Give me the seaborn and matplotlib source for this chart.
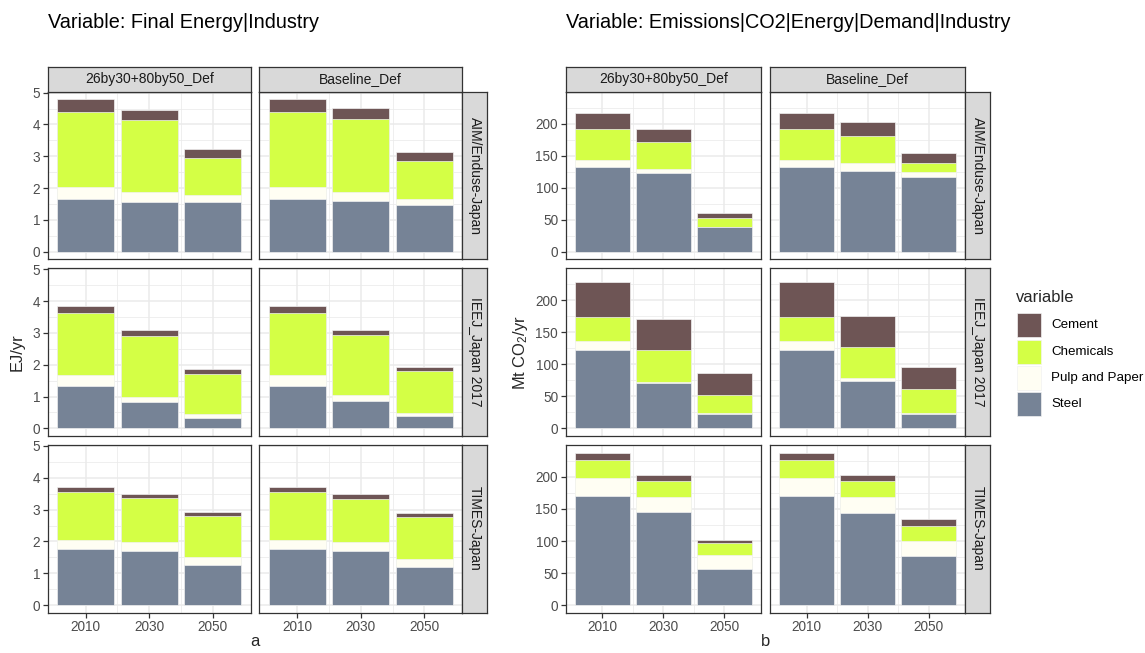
import numpy as np
import pandas as pd
import matplotlib
matplotlib.use("Agg")
import matplotlib.pyplot as plt
from matplotlib.patches import Rectangle
import seaborn as sns

# ---------------------------------------------------------------- data
years = ["2010", "2030", "2050"]
models = ["AIM/Enduse-Japan", "IEEJ_Japan 2017", "TIMES-Japan"]
scenarios = ["26by30+80by50_Def", "Baseline_Def"]
sectors = ["Cement", "Chemicals", "Pulp and Paper", "Steel"]   # legend order (top of stack first)

# Final Energy|Industry, EJ/yr  -- rows: (model, scenario), cols: years
fe_steel = [[1.67, 1.56, 1.56], [1.67, 1.59, 1.46],
            [1.34, 0.83, 0.34], [1.34, 0.86, 0.39],
            [1.77, 1.70, 1.25], [1.77, 1.69, 1.20]]
fe_pulp = [[0.37, 0.31, 0.21], [0.37, 0.30, 0.21],
           [0.34, 0.17, 0.11], [0.34, 0.18, 0.10],
           [0.29, 0.29, 0.25], [0.29, 0.28, 0.25]]
fe_chem = [[2.35, 2.26, 1.17], [2.35, 2.27, 1.19],
           [1.94, 1.89, 1.27], [1.94, 1.89, 1.32],
           [1.50, 1.37, 1.30], [1.50, 1.37, 1.32]]
fe_cement = [[0.40, 0.33, 0.30], [0.40, 0.37, 0.27],
             [0.23, 0.19, 0.13], [0.23, 0.16, 0.12],
             [0.15, 0.13, 0.13], [0.15, 0.14, 0.11]]

# Emissions|CO2|Energy|Demand|Industry, Mt CO2/yr
co2_steel = [[132, 123, 38], [132, 126, 117],
             [123, 71, 23], [123, 74, 23],
             [171, 145, 57], [171, 143, 76]]
co2_pulp = [[12, 7, 1], [12, 13, 8],
            [14, 1, 0.5], [14, 4, 1],
            [28, 24, 21], [28, 26, 24]]
co2_chem = [[47, 42, 13], [47, 41, 14],
            [37, 51, 29], [37, 49, 38],
            [27, 24, 19], [27, 24, 24]]
co2_cement = [[26, 19, 8], [26, 23, 15],
              [55, 48, 34], [55, 48, 34],
              [12, 10, 4], [12, 10, 11]]

colors = {"Cement": "#6E5555", "Chemicals": "#D4FF45",
          "Pulp and Paper": "#FFFEF3", "Steel": "#768396"}


def to_long(steel, pulp, chem, cement):
    rows = []
    for i, (m, s) in enumerate([(m, s) for m in models for s in scenarios]):
        for j, y in enumerate(years):
            for sec, arr in zip(["Steel", "Pulp and Paper", "Chemicals", "Cement"],
                                [steel, pulp, chem, cement]):
                rows.append(dict(model=m, scenario=s, year=y, variable=sec, value=arr[i][j]))
    return pd.DataFrame(rows)


df_fe = to_long(fe_steel, fe_pulp, fe_chem, fe_cement)
df_co2 = to_long(co2_steel, co2_pulp, co2_chem, co2_cement)

# ---------------------------------------------------------------- style
sns.set_style("white")
plt.rcParams["font.family"] = ["Liberation Sans", "DejaVu Sans"]
plt.rcParams["mathtext.fontset"] = "custom"
plt.rcParams["mathtext.rm"] = "Liberation Sans"
plt.rcParams["mathtext.it"] = "Liberation Sans:italic"

W, H = 1145, 653
fig = plt.figure(figsize=(W / 100, H / 100), dpi=100)
fig.patch.set_facecolor("white")

GRID = "#EBEBEB"
DARK = "#333333"
TICK_TXT = "#4D4D4D"
STRIP_BG = "#D9D9D9"
FS_TICK = 9.8
FS_STRIP = 10.0
FS_LEGEND = 9.6
FS_AXIS = 11.9
FS_TITLE = 14.3

row_tops = [91.7, 268.3, 445.0]
row_h = 167.7
strip_h = 25.0


def px_axes(x, y, w, h):
    return fig.add_axes([x / W, 1 - (y + h) / H, w / W, h / H])


def strip(x, y, w, h, label, rotate=False):
    sa = px_axes(x, y, w, h)
    sa.set_facecolor(STRIP_BG)
    sa.set_xticks([])
    sa.set_yticks([])
    for sp in sa.spines.values():
        sp.set_color(DARK)
        sp.set_linewidth(0.9)
    sa.text(0.5, 0.5, label, ha="center", va="center", fontsize=FS_STRIP,
            color="#1A1A1A", rotation=-90 if rotate else 0, transform=sa.transAxes)


def facet_block(df, col_lefts, col_w, ymax_data, yticks, yminor, title, ylabel, xlab,
                ylabel_x):
    lo, hi = 0.0, ymax_data
    pad = (hi - lo) * 0.05
    stack_order = ["Steel", "Pulp and Paper", "Chemicals", "Cement"]
    for r, m in enumerate(models):
        for c, s in enumerate(scenarios):
            ax = px_axes(col_lefts[c], row_tops[r], col_w, row_h)
            sub = df[(df.model == m) & (df.scenario == s)]
            wide = sub.pivot(index="year", columns="variable", values="value").loc[years]
            cum = wide[stack_order].cumsum(axis=1)
            # draw tallest cumulative first so lower segments sit on top
            for sec in reversed(stack_order):
                sns.barplot(x=years, y=cum[sec].values, order=years, color=colors[sec],
                            saturation=1, width=0.9, edgecolor="#F2F2F2", linewidth=0.5,
                            ax=ax, zorder=2)
            ax.set_xlim(-0.6, 2.6)
            ax.set_ylim(lo - pad, hi + pad)
            ax.set_xlabel("")
            ax.set_ylabel("")
            ax.set_yticks(yticks)
            ax.set_yticks(yminor, minor=True)
            ax.set_xticks([0, 1, 2])
            ax.set_xticks([0.5, 1.5], minor=True)
            ax.grid(which="major", color=GRID, linewidth=1.1, zorder=0)
            ax.grid(which="minor", color=GRID, linewidth=0.55, zorder=0)
            ax.set_axisbelow(True)
            ax.tick_params(which="major", length=3.5, width=0.9, color=DARK,
                           labelsize=FS_TICK, labelcolor=TICK_TXT, pad=2,
                           left=True, bottom=True)
            ax.tick_params(which="minor", length=0)
            if c == 0:
                ax.set_yticklabels([f"{t:g}" for t in yticks])
            else:
                ax.set_yticklabels([])
                ax.tick_params(axis="y", left=False)
            if r == len(models) - 1:
                ax.set_xticklabels(years)
            else:
                ax.set_xticklabels([])
                ax.tick_params(axis="x", bottom=False)
            for sp in ax.spines.values():
                sp.set_color(DARK)
                sp.set_linewidth(0.9)
                sp.set_visible(True)
            if r == 0:
                strip(col_lefts[c], row_tops[0] - strip_h, col_w, strip_h, s)
            if c == len(scenarios) - 1:
                strip(col_lefts[c] + col_w, row_tops[r], strip_h, row_h, m, rotate=True)

    left = col_lefts[0]
    right = col_lefts[-1] + col_w
    fig.text(left / W, 1 - 22 / H, title, fontsize=FS_TITLE, ha="left", va="center",
             color="black")
    mid_y = (row_tops[0] + row_tops[-1] + row_h) / 2
    fig.text(ylabel_x / W, 1 - mid_y / H, ylabel, fontsize=FS_AXIS, rotation=90,
             ha="center", va="center")
    fig.text((left + right) / 2 / W, 1 - 641 / H, xlab, fontsize=FS_AXIS,
             ha="center", va="center")


facet_block(df_fe, [47.7, 259.3], 203.0,
            df_fe.groupby(["model", "scenario", "year"]).value.sum().max(),
            [0, 1, 2, 3, 4, 5], [0.5, 1.5, 2.5, 3.5, 4.5],
            "Variable: Final Energy|Industry", "EJ/yr", "a", 17)
facet_block(df_co2, [565.7, 769.9], 195.4,
            df_co2.groupby(["model", "scenario", "year"]).value.sum().max(),
            [0, 50, 100, 150, 200], [25, 75, 125, 175, 225],
            "Variable: Emissions|CO2|Energy|Demand|Industry", r"Mt CO$_2$/yr", "b", 520)

# ---------------------------------------------------------------- legend
lax = fig.add_axes([0, 0, 1, 1], zorder=5)
lax.set_xlim(0, W)
lax.set_ylim(H, 0)
lax.axis("off")
lax.text(1016, 297, "variable", fontsize=FS_AXIS, ha="left", va="center")
key_top, key_step, key_size = 313.3, 26.3, 24.0
for i, sec in enumerate(sectors):
    y0 = key_top + i * key_step
    lax.add_patch(Rectangle((1017, y0), key_size, key_size, facecolor=colors[sec],
                            edgecolor="#F2F2F2", linewidth=0.5))
    lax.text(1051, y0 + key_size / 2, sec, fontsize=FS_LEGEND, ha="left", va="center",
             color="black")

fig.savefig("out.png", dpi=100, facecolor="white")
